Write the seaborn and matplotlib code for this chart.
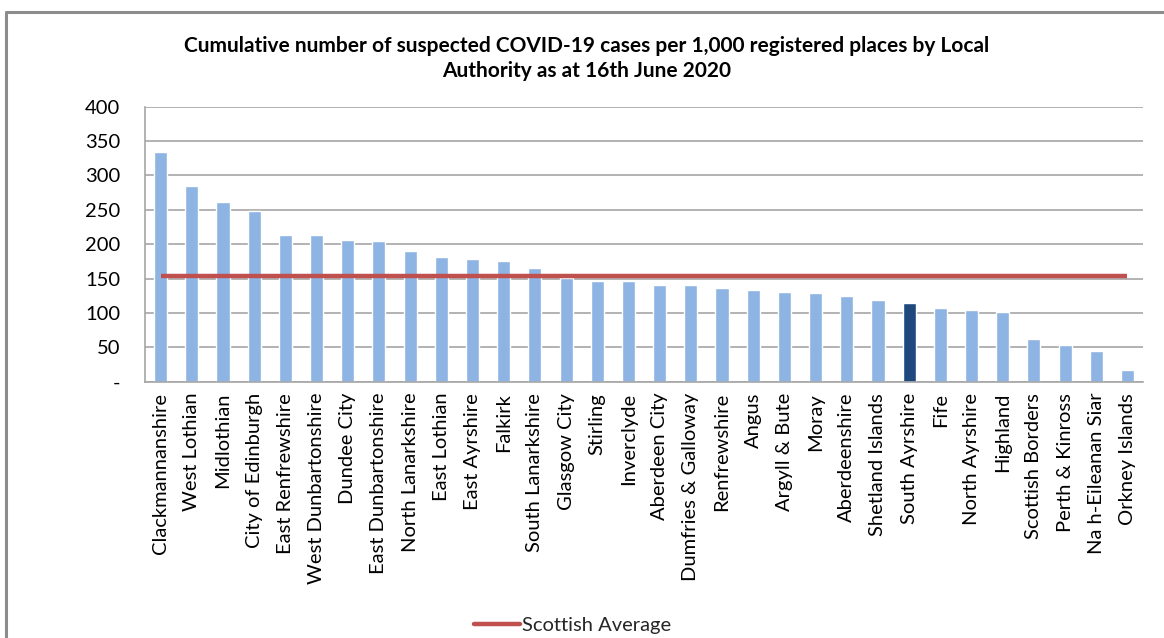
import matplotlib
matplotlib.use("Agg")
import matplotlib.pyplot as plt
from matplotlib.lines import Line2D
import seaborn as sns

# Suspected COVID-19 cases per 1,000 registered places, by local authority
authorities = [
    "Clackmannanshire", "West Lothian", "Midlothian", "City of Edinburgh",
    "East Renfrewshire", "West Dunbartonshire", "Dundee City", "East Dunbartonshire",
    "North Lanarkshire", "East Lothian", "East Ayrshire", "Falkirk",
    "South Lanarkshire", "Glasgow City", "Stirling", "Inverclyde",
    "Aberdeen City", "Dumfries & Galloway", "Renfrewshire", "Angus",
    "Argyll & Bute", "Moray", "Aberdeenshire", "Shetland Islands",
    "South Ayrshire", "Fife", "North Ayrshire", "Highland",
    "Scottish Borders", "Perth & Kinross", "Na h-Eileanan Siar", "Orkney Islands",
]
cases_per_1000 = [
    334, 284, 261, 248, 214, 214, 206, 204,
    190, 181, 178, 175, 166, 151, 147, 146,
    141, 141, 137, 134, 130, 129, 125, 119,
    114, 107, 104, 101, 62, 53, 44, 17,
]
scottish_average = 154
highlighted = "South Ayrshire"
y_ticks = [0, 50, 100, 150, 200, 250, 300, 350, 400]
y_tick_labels = ["-", "50", "100", "150", "200", "250", "300", "350", "400"]

title = ("Cumulative number of suspected COVID-19 cases per 1,000 registered places by Local\n"
         "Authority as at 16th June 2020")

BAR = "#8EB4E3"
BAR_DARK = "#1F497D"
AVG = "#C0504D"
GRID = "#A6A6A6"

sns.set_theme(style="white")
plt.rcParams["font.family"] = ["Lato", "DejaVu Sans"]

fig = plt.figure(figsize=(11.64, 6.38), dpi=100)
ax = fig.add_axes([0.1246, 0.4017, 0.8574, 0.4311])

palette = [BAR_DARK if a == highlighted else BAR for a in authorities]
sns.barplot(x=authorities, y=cases_per_1000, hue=authorities, palette=palette,
            legend=False, width=0.42, saturation=1, ax=ax, zorder=2)

n = len(authorities)
ax.plot([0, n - 1], [scottish_average, scottish_average], color=AVG,
        linewidth=3.2, solid_capstyle="butt", zorder=3)

ax.set_xlim(-0.5, n - 0.5)
ax.set_ylim(0, 400)
ax.set_yticks(y_ticks)
ax.set_yticklabels(y_tick_labels, fontsize=14.5, color="#000000")
ax.tick_params(axis="y", length=0, pad=18)
ax.tick_params(axis="x", length=0, pad=8)
plt.setp(ax.get_xticklabels(), rotation=90, fontsize=14.5, color="#000000")
ax.set_xlabel("")
ax.set_ylabel("")

ax.yaxis.grid(True, color=GRID, linewidth=1.2, zorder=0)
ax.set_axisbelow(True)
for side in ("top", "right"):
    ax.spines[side].set_visible(False)
for side in ("left", "bottom"):
    ax.spines[side].set_color(GRID)
    ax.spines[side].set_linewidth(1.2)

fig.text(0.504, 0.908, title, ha="center", va="center", fontsize=15,
         fontweight="bold", linespacing=1.3, color="#000000")

handle = Line2D([], [], color=AVG, linewidth=3.2)
fig.legend([handle], ["Scottish Average"], loc="center", bbox_to_anchor=(0.492, 0.019),
           frameon=False, fontsize=14.5, handlelength=2.3, handletextpad=0.1)

# outer frame (top and left edges)
fig.add_artist(Line2D([6 / 1164, 1.0], [1 - 12 / 638, 1 - 12 / 638],
                      transform=fig.transFigure, color="#8C8C8C", linewidth=2.2))
fig.add_artist(Line2D([6 / 1164, 6 / 1164], [0.0, 1 - 12 / 638],
                      transform=fig.transFigure, color="#8C8C8C", linewidth=2.2))

fig.savefig("out.png", dpi=100, facecolor="white")
